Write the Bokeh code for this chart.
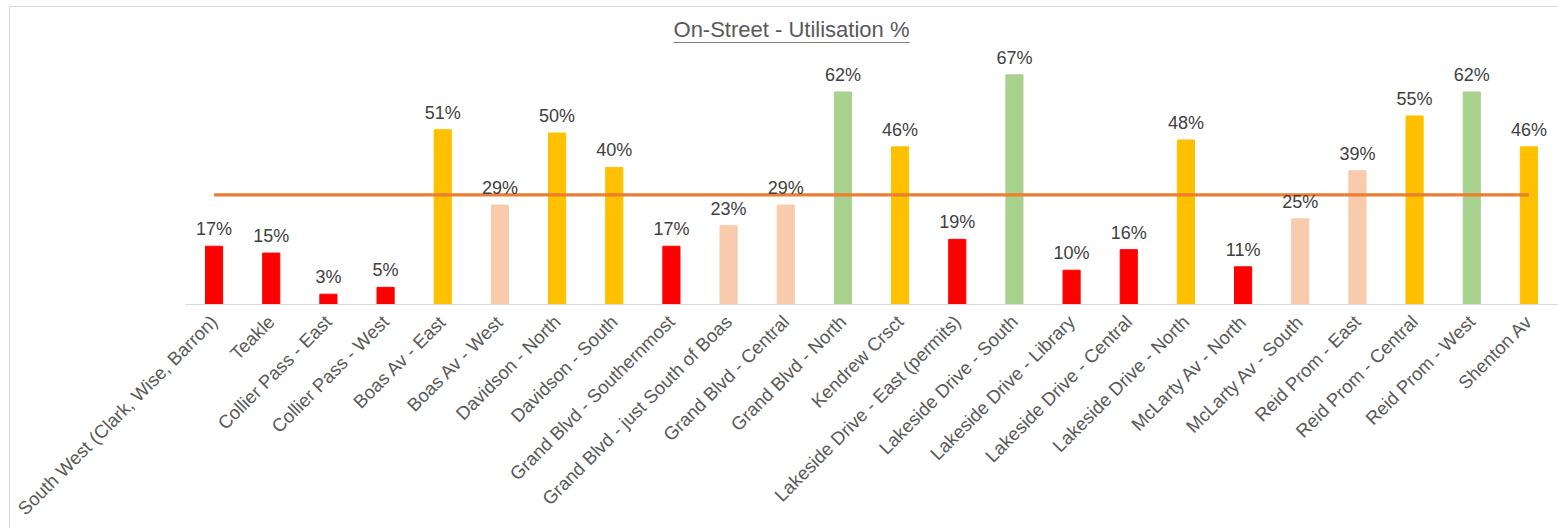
import math
from bokeh.plotting import figure
from bokeh.models import Range1d, Label, ColumnDataSource
from bokeh.core.properties import value
from bokeh.embed import file_html
from bokeh.resources import INLINE

# ---- data ----
categories = [
    "South West (Clark, Wise, Barron)", "Teakle", "Collier Pass - East",
    "Collier Pass - West", "Boas Av - East", "Boas Av - West",
    "Davidson - North", "Davidson - South", "Grand Blvd - Southernmost",
    "Grand Blvd - just South of Boas", "Grand Blvd - Central",
    "Grand Blvd - North", "Kendrew Crsct", "Lakeside Drive - East (permits)",
    "Lakeside Drive - South", "Lakeside Drive - Library",
    "Lakeside Drive - Central", "Lakeside Drive - North", "McLarty Av - North",
    "McLarty Av - South", "Reid Prom - East", "Reid Prom - Central",
    "Reid Prom - West", "Shenton Av",
]
utilisation = [17, 15, 3, 5, 51, 29, 50, 40, 17, 23, 29, 62, 46, 19, 67, 10,
               16, 48, 11, 25, 39, 55, 62, 46]
target_level = 32
title_text = "On-Street - Utilisation %"

# ---- styling ----
RED, PEACH, GOLD, GREEN = "#FF0000", "#F8CBAD", "#FFC000", "#A9D18E"


def band_colour(v):
    if v < 20:
        return RED
    if v < 40:
        return PEACH
    if v < 60:
        return GOLD
    return GREEN


colours = [band_colour(v) for v in utilisation]
labels = [f"{v}%" for v in utilisation]
target = [target_level for _ in categories]

src = ColumnDataSource(dict(cat=categories, val=utilisation, col=colours,
                            lab=labels, tgt=target))

FONT = "Liberation Sans"
W, H = 1549, 522
LEFT_B, RIGHT_B, TOP_B, BOTTOM_B = 175, 2, 0, 225
frame_h = H - TOP_B - BOTTOM_B
px_per_unit = 3.428
y_end = frame_h / px_per_unit

p = figure(
    x_range=categories, y_range=Range1d(0, y_end),
    width=W, height=H, output_backend="svg", toolbar_location=None,
    min_border_left=LEFT_B, min_border_right=RIGHT_B,
    min_border_top=TOP_B, min_border_bottom=BOTTOM_B,
    title=None,
)
p.styles = {"margin-left": "9px", "margin-top": "6px",
            "border-left": "1px solid #d9d9d9", "border-top": "1px solid #d9d9d9"}

p.vbar(x="cat", top="val", width=0.3, color="col", source=src)
p.line(x="cat", y="tgt", line_color="#ED7D31", line_width=3.2, source=src)
p.text(x="cat", y="val", text="lab", source=src, text_align="center",
       text_baseline="alphabetic", y_offset=-17, text_color="#404040",
       text_font=value(FONT), text_font_size="18px")

# title with underline
frame_w = W - LEFT_B - RIGHT_B
cat_w = frame_w / len(categories)
title_x = (790 - 9 - LEFT_B) / cat_w
title_y = (303 - 27.5) / px_per_unit
p.add_layout(Label(x=title_x, y=title_y, text=title_text, text_align="center",
                   text_baseline="alphabetic", text_color="#595959",
                   text_font=FONT, text_font_size="22px"))
half = 118 / cat_w
uy = (303 - 41) / px_per_unit
p.segment(x0=[title_x - half], y0=[uy], x1=[title_x + half], y1=[uy],
          line_color="#7f7f7f", line_width=1)

# axes / grid
p.yaxis.visible = False
p.xgrid.grid_line_color = None
p.ygrid.grid_line_color = None
p.outline_line_color = None
ax = p.xaxis[0]
ax.axis_line_color = "#d9d9d9"
ax.axis_line_width = 1
ax.major_tick_line_color = None
ax.minor_tick_line_color = None
ax.major_label_orientation = math.pi / 4
ax.major_label_text_font = FONT
ax.major_label_text_font_size = "18.5px"
ax.major_label_text_color = "#595959"
ax.major_label_standoff = 8
p.x_range.range_padding = 0

open("out.html", "w").write(file_html(p, INLINE))
